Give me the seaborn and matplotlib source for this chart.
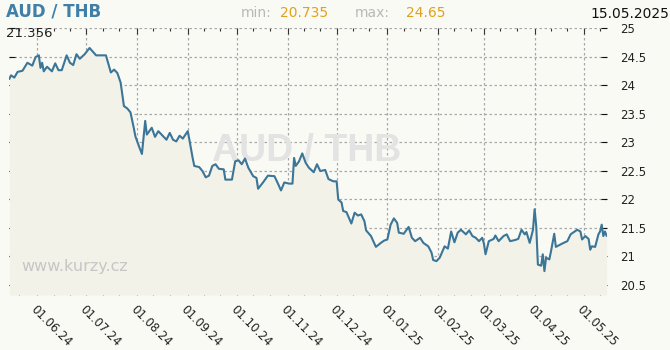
import numpy as np
import pandas as pd
import matplotlib
matplotlib.use("Agg")
import matplotlib.pyplot as plt
import matplotlib.dates as mdates
import seaborn as sns

start_date = "2024-05-15"
end_date = "2025-05-15"
day_offsets = [0,1,3,5,8,11,14,16,18,19,
               20,21,23,26,28,30,32,35,37,39,
               41,43,46,49,53,59,62,64,66,68,
               70,72,74,76,77,79,81,83,84,87,
               89,91,96,98,100,102,104,106,109,110,
               112,113,116,118,120,122,124,126,128,131,
               132,136,138,140,142,144,146,149,151,152,
               155,158,162,164,166,168,171,173,174,175,
               177,179,181,183,186,188,190,193,195,198,
               200,201,203,204,206,209,211,213,215,217,
               218,221,224,227,229,231,233,235,237,238,
               241,244,246,248,251,253,256,258,259,261,
               263,266,268,270,272,274,276,279,281,283,
               285,287,289,290,291,293,296,297,299,302,
               304,306,309,311,313,315,316,318,320,321,
               322,323,325,326,327,328,330,331,333,334,
               338,341,343,345,347,349,350,352,354,355,
               356,358,360,361,362,363,364,365]
rates = [24.11,24.17,24.13,24.23,24.25,24.39,24.34,24.49,24.52,24.30,
         24.39,24.24,24.32,24.24,24.38,24.26,24.26,24.52,24.39,24.35,
         24.54,24.46,24.54,24.65,24.52,24.52,24.22,24.27,24.21,24.04,
         23.63,23.59,23.52,23.25,23.10,22.94,22.79,23.37,23.13,23.25,
         23.09,23.19,23.04,23.16,23.04,23.01,23.11,23.06,23.19,23.04,
         22.72,22.58,22.56,22.49,22.38,22.41,22.58,22.61,22.53,22.52,
         22.34,22.34,22.66,22.68,22.61,22.71,22.55,22.40,22.37,22.18,
         22.29,22.41,22.40,22.28,22.15,22.29,22.27,22.27,22.72,22.58,
         22.66,22.80,22.64,22.55,22.47,22.61,22.49,22.51,22.35,22.31,
         22.31,21.99,21.94,21.79,21.77,21.57,21.76,21.71,21.73,21.61,
         21.45,21.35,21.16,21.23,21.27,21.29,21.55,21.66,21.58,21.41,
         21.39,21.51,21.32,21.26,21.32,21.23,21.17,21.06,20.93,20.91,
         20.97,21.17,21.13,21.43,21.24,21.41,21.46,21.38,21.45,21.35,
         21.32,21.26,21.32,21.22,21.03,21.26,21.30,21.36,21.26,21.35,
         21.38,21.26,21.28,21.30,21.46,21.38,21.42,21.23,21.46,21.82,
         21.52,20.85,20.83,21.03,20.735,20.97,20.94,21.08,21.39,21.16,
         21.22,21.26,21.38,21.42,21.46,21.43,21.29,21.35,21.30,21.11,
         21.17,21.16,21.38,21.43,21.55,21.35,21.43,21.356]
y_ticks = [20.5, 21, 21.5, 22, 22.5, 23, 23.5, 24, 24.5, 25]
y_tick_labels = ["20.5", "21", "21.5", "22", "22.5", "23", "23.5", "24", "24.5", "25"]
title = "AUD / THB"
last_value = "21.356"
min_value = "20.735"
max_value = "24.65"
date_label = "15.05.2025"
watermark = "www.kurzy.cz"

df = pd.DataFrame({
    "date": pd.to_datetime(start_date) + pd.to_timedelta(day_offsets, unit="D"),
    "rate": rates,
})

BG = "#fafaf5"
FILL = "#f2f2e8"
LINE = "#3b7597"

fig = plt.figure(figsize=(6.7, 3.5), dpi=100, facecolor=BG)
ax = fig.add_axes([9.4/670, 1-295/350, 597.2/670, 267/350])
ax.set_facecolor(BG)

ymin = 25 - 267/57
ax.fill_between(df["date"], df["rate"], ymin, color=FILL, zorder=1, linewidth=0)
sns.lineplot(data=df, x="date", y="rate", ax=ax, color=LINE, linewidth=1.5, zorder=3)

ax.set_xlim(pd.to_datetime(start_date), pd.to_datetime(end_date))
ax.set_ylim(ymin, 25.0)

# watermark title in the plot
ax.text(307/670, 1-151/350, title, transform=fig.transFigure, ha="center", va="center",
        fontsize=27, fontweight="bold", color="#e3e3e3", family="Liberation Sans", zorder=2)
ax.text(75/670, 1-266/350, watermark, transform=fig.transFigure, ha="center", va="center",
        fontsize=11.5, color="#c6c6c6", zorder=2)

ax.xaxis.set_major_locator(mdates.MonthLocator(bymonthday=1))
ax.xaxis.set_minor_locator(mdates.DayLocator(bymonthday=[11, 21]))
ax.xaxis.set_major_formatter(mdates.DateFormatter("%d.%m.%y"))
ax.set_yticks(y_ticks)
ax.set_yticklabels(y_tick_labels)
ax.yaxis.tick_right()

ax.grid(True, which="major", color="#a8a8a8", linestyle=(0, (2, 2)), linewidth=0.9, zorder=0)
ax.set_axisbelow(True)
for s in ax.spines.values():
    s.set_visible(False)

ax.tick_params(axis="x", which="major", direction="in", length=4, width=0.8, color="#333333",
               top=True, bottom=True, labelsize=8.5, labelcolor="#222222", pad=6)
ax.tick_params(axis="x", which="minor", direction="in", length=2, width=0.8, color="#333333",
               top=True, bottom=True)
ax.tick_params(axis="y", which="major", direction="in", length=4, width=0.8, color="#111111",
               left=True, right=True, labelleft=False, labelright=True,
               labelsize=8.5, labelcolor="#222222", pad=10)
for lbl in ax.get_xticklabels():
    lbl.set_rotation(-45)
    lbl.set_ha("left")
    lbl.set_va("top")
    lbl.set_rotation_mode("anchor")
ax.set_xlabel("")
ax.set_ylabel("")

fig.text(6/670, 1-16.7/350, title, ha="left", va="baseline", fontsize=12,
         fontweight="bold", color="#3f7fa8")
fig.text(6/670, 1-37/350, last_value, ha="left", va="baseline", fontsize=9.5, color="#222222")
fig.text(241/670, 1-17/350, "min:", ha="left", va="baseline", fontsize=10, color="#b8b8b8")
fig.text(280/670, 1-17/350, min_value, ha="left", va="baseline", fontsize=10, color="#e0a218")
fig.text(355/670, 1-17/350, "max:", ha="left", va="baseline", fontsize=10, color="#b8b8b8")
fig.text(406/670, 1-17/350, max_value, ha="left", va="baseline", fontsize=10, color="#e0a218")
fig.text(669/670, 1-17.5/350, date_label, ha="right", va="baseline", fontsize=10, color="#111111")

fig.savefig("out.png", dpi=100, facecolor=BG)
